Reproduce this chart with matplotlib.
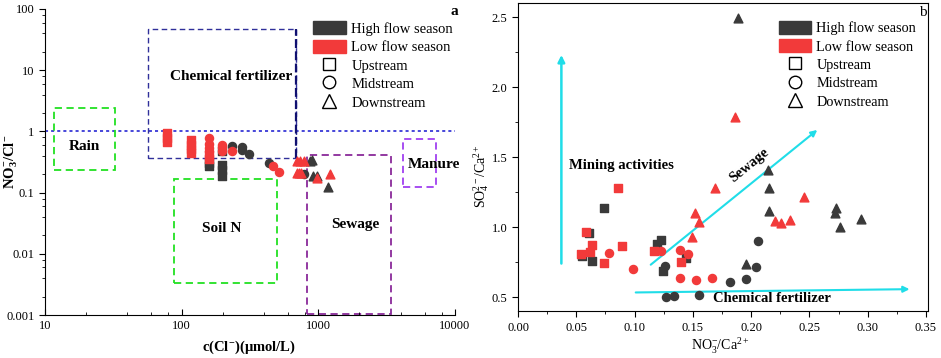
import matplotlib
matplotlib.use("Agg")
import matplotlib.pyplot as plt
from matplotlib.patches import Rectangle, Patch
from matplotlib.lines import Line2D
from matplotlib.ticker import MultipleLocator, LogLocator, NullFormatter, FormatStrFormatter

plt.rcParams['font.family'] = ['Liberation Serif', 'DejaVu Serif']
plt.rcParams['mathtext.fontset'] = 'custom'
plt.rcParams['mathtext.rm'] = 'Liberation Serif'
plt.rcParams['mathtext.it'] = 'Liberation Serif:italic'
plt.rcParams['mathtext.bf'] = 'Liberation Serif:bold'

## ---- data: panel a, c(Cl-) vs NO3-/Cl- ----
a_high_up_x = [158, 158, 196, 196, 196, 196]
a_high_up_y = [0.30, 0.27, 0.48, 0.28, 0.23, 0.19]
a_high_mid_x = [232, 275, 275, 312, 435, 790]
a_high_mid_y = [0.58, 0.55, 0.50, 0.42, 0.31, 0.20]
a_high_down_x = [867, 905, 908, 982, 1180]
a_high_down_y = [0.33, 0.34, 0.19, 0.19, 0.125]
a_low_up_x = [78, 78, 78, 118, 118, 118, 118, 158, 158]
a_low_up_y = [0.95, 0.78, 0.66, 0.73, 0.60, 0.52, 0.45, 0.41, 0.36]
a_low_mid_x = [158, 158, 158, 158, 196, 196, 196, 235, 468, 515]
a_low_mid_y = [0.78, 0.62, 0.53, 0.47, 0.60, 0.55, 0.47, 0.47, 0.27, 0.22]
a_low_down_x = [693, 740, 780, 693, 720, 750, 982, 1220]
a_low_down_y = [0.33, 0.33, 0.33, 0.21, 0.21, 0.21, 0.17, 0.20]

## source boxes (x0, x1, y0, y1)
rain_box = [11.7, 32.7, 0.234, 2.39]
fert_box = [56.4, 685, 0.363, 47.1]
soil_box = [88.3, 495, 0.0033, 0.165]
sewage_box = [830, 3380, 0.00105, 0.411]
manure_box = [4180, 7245, 0.122, 0.743]

## ---- data: panel b, NO3-/Ca2+ vs SO4 2-/Ca2+ ----
b_high_up_x = [0.0552, 0.0609, 0.0635, 0.0741, 0.119, 0.123, 0.124, 0.144]
b_high_up_y = [0.795, 0.957, 0.759, 1.14, 0.881, 0.909, 0.683, 0.783]
b_high_mid_x = [0.1265, 0.127, 0.134, 0.155, 0.182, 0.1953, 0.2044, 0.2057]
b_high_mid_y = [0.724, 0.502, 0.511, 0.517, 0.611, 0.631, 0.714, 0.902]
b_high_down_x = [0.1887, 0.2144, 0.2153, 0.2153, 0.2725, 0.2716, 0.2765, 0.2945, 0.1953]
b_high_down_y = [2.493, 1.409, 1.279, 1.116, 1.136, 1.104, 1.004, 1.059, 0.738]
b_low_up_x = [0.0544, 0.0587, 0.0615, 0.0635, 0.0735, 0.0858, 0.0892, 0.117, 0.140]
b_low_up_y = [0.809, 0.964, 0.819, 0.874, 0.743, 1.279, 0.866, 0.826, 0.75]
b_low_mid_x = [0.0778, 0.0986, 0.123, 0.1387, 0.1387, 0.1458, 0.153, 0.1667]
b_low_mid_y = [0.814, 0.702, 0.826, 0.838, 0.64, 0.809, 0.619, 0.64]
b_low_down_x = [0.1858, 0.2453, 0.2201, 0.2253, 0.233, 0.1687, 0.152, 0.155, 0.149]
b_low_down_y = [1.786, 1.212, 1.047, 1.033, 1.052, 1.279, 1.1, 1.04, 0.933]

HIGH = '#3a3a3a'
LOW = '#f23a3a'
CYAN = '#20dde8'
MS = 34

fig = plt.figure(figsize=(9.41, 3.58), dpi=100)
ax1 = fig.add_axes([0.0478, 0.120, 0.4357, 0.855])
ax2 = fig.add_axes([0.5505, 0.131, 0.436, 0.860])


def legend_handles():
    return [Patch(facecolor=HIGH, edgecolor=HIGH, label='High flow season'),
            Patch(facecolor=LOW, edgecolor=LOW, label='Low flow season'),
            Line2D([], [], ls='none', marker='s', mfc='none', mec='k', ms=9, mew=1, label='Upstream'),
            Line2D([], [], ls='none', marker='o', mfc='none', mec='k', ms=9, mew=1, label='Midstream'),
            Line2D([], [], ls='none', marker='^', mfc='none', mec='k', ms=10, mew=1, label='Downstream')]


## ---------------- panel a ----------------
ax1.set_xscale('log')
ax1.set_yscale('log')
ax1.set_xlim(10, 10000)
ax1.set_ylim(0.001, 100)
ax1.axhline(1, color='#1515d0', ls=(0, (2, 2)), lw=1.1, zorder=1)

for b, col, lw in [(rain_box, '#22e022', 1.3), (fert_box, '#30309a', 1.0),
                   (soil_box, '#22e022', 1.3), (sewage_box, '#8a2a9a', 1.3),
                   (manure_box, '#a040f0', 1.3)]:
    ax1.add_patch(Rectangle((b[0], b[2]), b[1] - b[0], b[3] - b[2], fill=False,
                            edgecolor=col, ls=(0, (4, 2.5)), lw=lw, zorder=1))
# heavier right edge of the fertilizer box
ax1.plot([fert_box[1], fert_box[1]], [fert_box[2], fert_box[3]], color='#101070',
         ls=(0, (4, 1.5)), lw=1.6, zorder=1)

ax1.scatter(a_high_up_x, a_high_up_y, marker='s', s=MS, c=HIGH, zorder=3)
ax1.scatter(a_high_mid_x, a_high_mid_y, marker='o', s=MS, c=HIGH, zorder=3)
ax1.scatter(a_high_down_x, a_high_down_y, marker='^', s=MS + 6, c=HIGH, zorder=3)
ax1.scatter(a_low_up_x, a_low_up_y, marker='s', s=MS, c=LOW, zorder=3)
ax1.scatter(a_low_mid_x, a_low_mid_y, marker='o', s=MS, c=LOW, zorder=3)
ax1.scatter(a_low_down_x, a_low_down_y, marker='^', s=MS + 6, c=LOW, zorder=3)

lab = dict(fontsize=11, fontweight='bold', ha='center', va='center')
ax1.text(19.5, 0.56, 'Rain', **lab)
ax1.text(230, 8.0, 'Chemical fertilizer', **lab)
ax1.text(195, 0.026, 'Soil N', **lab)
ax1.text(1880, 0.030, 'Sewage', **lab)
ax1.text(7000, 0.29, 'Manure', **lab)

ax1.spines['top'].set_visible(False)
ax1.spines['right'].set_visible(False)
ax1.xaxis.set_minor_locator(LogLocator(base=10, subs=[2, 4, 6, 8]))
ax1.yaxis.set_minor_locator(LogLocator(base=10, subs=[2, 4, 6, 8]))
ax1.xaxis.set_minor_formatter(NullFormatter())
ax1.yaxis.set_minor_formatter(NullFormatter())
ax1.set_xticks([10, 100, 1000, 10000])
ax1.set_xticklabels(['10', '100', '1000', '10000'])
ax1.set_yticks([0.001, 0.01, 0.1, 1, 10, 100])
ax1.set_yticklabels(['0.001', '0.01', '0.1', '1', '10', '100'])
ax1.tick_params(which='major', length=4, labelsize=9)
ax1.tick_params(which='minor', length=2)
ax1.tick_params(axis='x', which='both', direction='in')
ax1.set_xlabel(r'$\mathbf{c(Cl^{-})(μmol/L)}$', fontsize=10.5)
ax1.set_ylabel(r'$\mathbf{NO_3^{-}/Cl^{-}}$', fontsize=10.5)
ax1.xaxis.set_label_coords(0.498, -0.077)
ax1.yaxis.set_label_coords(-0.061, 0.5)

ax1.legend(handles=legend_handles(), loc='upper left', bbox_to_anchor=(0.653, 0.96),
           frameon=False, fontsize=10.5, handlelength=2.3, handleheight=1.0,
           handletextpad=0.35, labelspacing=0.27, borderpad=0, borderaxespad=0)
fig.text(0.487, 0.985, 'a', fontsize=11, fontweight='bold', ha='right', va='top')

## ---------------- panel b ----------------
ax2.set_xlim(0, 0.352)
ax2.set_ylim(0.4, 2.6)

ax2.annotate('', xy=(0.0372, 2.25), xytext=(0.0372, 0.72),
             arrowprops=dict(arrowstyle='-|>', color=CYAN, lw=1.8, mutation_scale=10))
ax2.annotate('', xy=(0.2586, 1.707), xytext=(0.112, 0.719),
             arrowprops=dict(arrowstyle='-|>', color=CYAN, lw=1.5, mutation_scale=9))
ax2.annotate('', xy=(0.3383, 0.557), xytext=(0.0986, 0.533),
             arrowprops=dict(arrowstyle='-|>', color=CYAN, lw=1.5, mutation_scale=9))

ax2.scatter(b_high_up_x, b_high_up_y, marker='s', s=MS, c=HIGH, zorder=3)
ax2.scatter(b_high_mid_x, b_high_mid_y, marker='o', s=MS, c=HIGH, zorder=3)
ax2.scatter(b_high_down_x, b_high_down_y, marker='^', s=MS + 6, c=HIGH, zorder=3)
ax2.scatter(b_low_up_x, b_low_up_y, marker='s', s=MS, c=LOW, zorder=3)
ax2.scatter(b_low_mid_x, b_low_mid_y, marker='o', s=MS, c=LOW, zorder=3)
ax2.scatter(b_low_down_x, b_low_down_y, marker='^', s=MS + 6, c=LOW, zorder=3)

ax2.text(0.0437, 1.44, 'Mining activities', fontsize=10.5, fontweight='bold', ha='left', va='center')
ax2.text(0.198, 1.44, 'Sewage', fontsize=10.5, fontweight='bold', ha='center', va='center', rotation=39)
ax2.text(0.218, 0.49, 'Chemical fertilizer', fontsize=10.5, fontweight='bold', ha='center', va='center')

ax2.xaxis.set_major_locator(MultipleLocator(0.05))
ax2.xaxis.set_minor_locator(MultipleLocator(0.025))
ax2.yaxis.set_major_locator(MultipleLocator(0.5))
ax2.yaxis.set_minor_locator(MultipleLocator(0.25))
ax2.xaxis.set_major_formatter(FormatStrFormatter('%.2f'))
ax2.yaxis.set_major_formatter(FormatStrFormatter('%.1f'))
ax2.tick_params(which='major', length=4, labelsize=9)
ax2.tick_params(which='minor', length=2)
ax2.set_xlabel(r'NO$_3^{-}$/Ca$^{2+}$', fontsize=10)
ax2.set_ylabel(r'SO$_4^{2-}$/Ca$^{2+}$', fontsize=10)
ax2.xaxis.set_label_coords(0.493, -0.083)
ax2.yaxis.set_label_coords(-0.066, 0.44)

ax2.legend(handles=legend_handles(), loc='upper left', bbox_to_anchor=(0.635, 0.943),
           frameon=False, fontsize=10.3, handlelength=2.3, handleheight=1.0,
           handletextpad=0.35, labelspacing=0.29, borderpad=0, borderaxespad=0)
ax2.text(0.997, 0.99, 'b', transform=ax2.transAxes, fontsize=11, ha='right', va='top')

fig.savefig('out.png', dpi=100)
